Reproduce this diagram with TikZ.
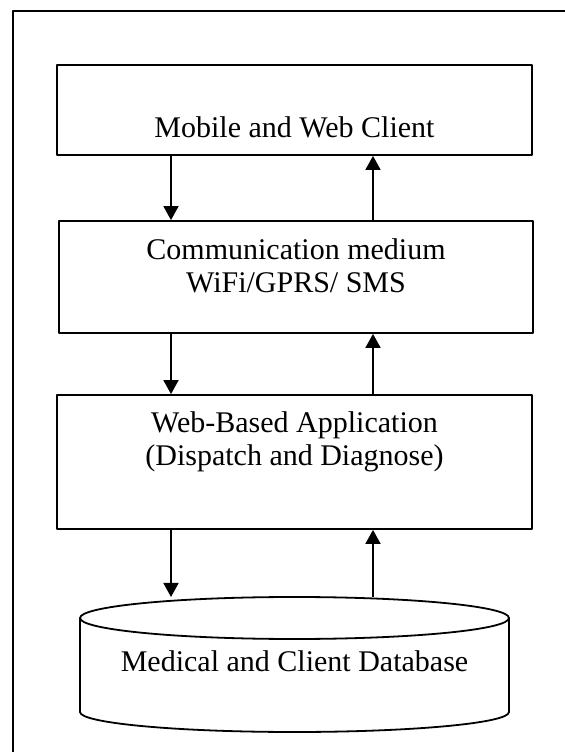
\documentclass[tikz,border=0pt]{standalone}
\usepackage{fontspec}
\setmainfont{Liberation Serif}
\usetikzlibrary{arrows.meta}

\tikzset{
  blk/.style={draw,line width=0.9pt,inner sep=0pt},
  lbl/.style={font=\fontsize{15}{17}\selectfont,anchor=base,inner sep=0pt}
}

\begin{document}
\begin{tikzpicture}[line join=round,>={Triangle[length=7pt,width=7.5pt]},x=0.5pt,y=0.5pt,line width=0.9pt]
     \useasboundingbox (0,0) rectangle (565,752);
     \draw (13,0) -- (13,741) -- (565,741); % Rahmen

     \node[blk,minimum width=237.5pt,minimum height=45pt] (mob) at (294.5,642) {}; % Client
     \node[blk,minimum width=237pt,minimum height=56pt]   (com) at (296,475) {};   % Medium
     \node[blk,minimum width=237.5pt,minimum height=67pt] (app) at (294.5,290) {}; % Anwendung

     \node[lbl] (tmob)  at (294.5,614) {Mobile and Web Client};
     \node[lbl] (tcom1) at (296,493)   {Communication medium};
     \node[lbl] (tcom2) at (296,459)   {WiFi/GPRS/ SMS};
     \node[lbl] (tapp1) at (294.5,320) {Web-Based Application};
     \node[lbl] (tapp2) at (294.5,286) {(Dispatch and Diagnose)};

     % Datenbank
     \draw (80,134) -- (80,40) arc[start angle=180,end angle=360,x radius=107.25pt,y radius=10pt] -- (509,134);
     \draw (294.5,134) ellipse [x radius=107.25pt,y radius=10.5pt];
     \coordinate (db) at (294.5,155);
     \node[lbl] (tdb) at (294.5,81) {Medical and Client Database};

     \coordinate (dn) at (171,0);
     \coordinate (up) at (373,0);
     \foreach \a/\b in {mob/com,com/app}{
       \draw[->] (\a.south -| dn) -- (\b.north -| dn); % runter
       \draw[->] (\b.north -| up) -- (\a.south -| up); % hoch
     }
     \draw[->] (app.south -| dn) -- (db -| dn);
     \draw[->] (db -| up) -- (app.south -| up);
\end{tikzpicture}
\end{document}
